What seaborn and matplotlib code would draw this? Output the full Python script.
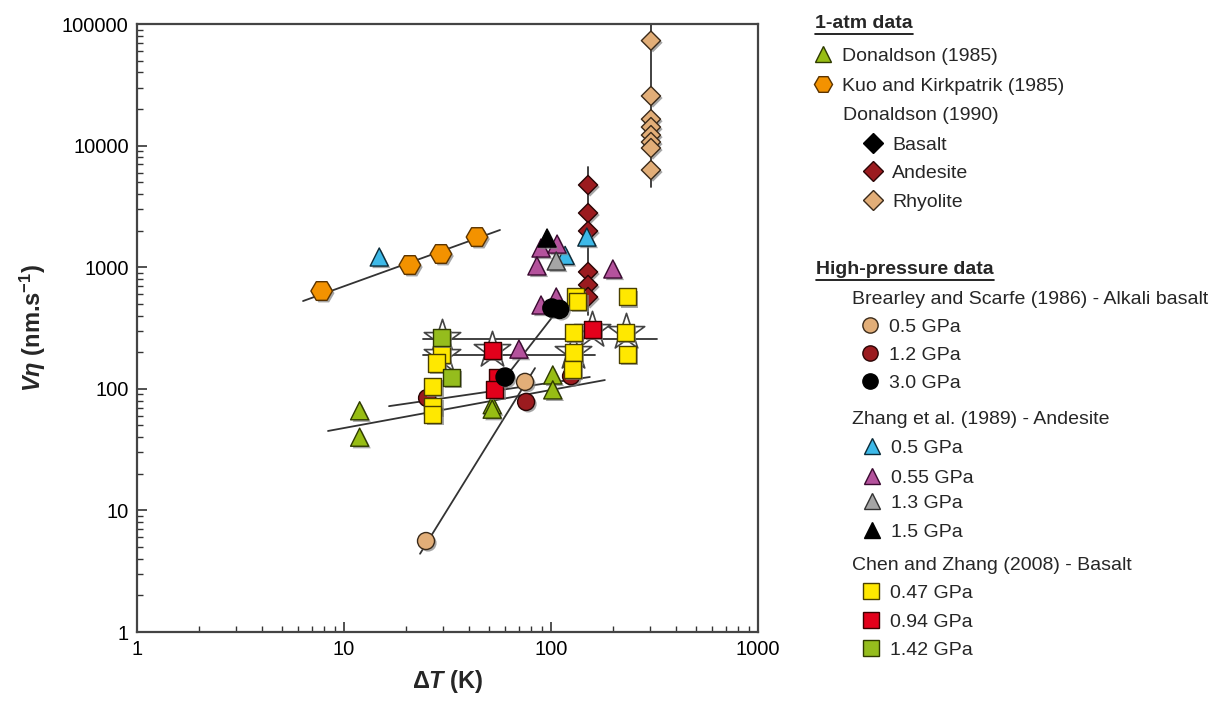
import matplotlib
matplotlib.use('Agg')
import matplotlib.pyplot as plt
import matplotlib.patheffects as pe
from matplotlib.lines import Line2D
from matplotlib.ticker import LogLocator, FuncFormatter, NullFormatter
import seaborn as sns

# ---- data (dT in K, V*eta in nm/s) ----
# 1-atm data
don85_dt = [11.9, 11.9, 52, 52, 102, 102]
don85_v = [66, 40, 74, 68, 130, 98]
kuo_dt = [7.8, 20.8, 29.4, 43.9]
kuo_v = [637, 1042, 1284, 1770]
and90_dt = [151, 151, 151, 151, 151, 151]
and90_v = [4745, 2790, 1985, 914, 715, 569]
rhy90_dt = [304, 304, 304, 304, 304, 304, 304, 304]
rhy90_v = [73000, 25600, 16500, 14200, 12200, 10700, 9550, 6300]

# high-pressure data
bs05_dt = [24.9, 74.9]
bs05_v = [5.6, 114]
bs12_dt = [25.2, 75.8, 125]
bs12_v = [84, 78, 127]
bs30_dt = [60, 101, 110]
bs30_v = [125, 462, 450]
zh050_dt = [14.8, 117, 149]
zh050_v = [1213, 1250, 1770]
zh055_dt = [89.5, 107, 85.5, 199, 89.5, 106, 70]
zh055_v = [1438, 1550, 1024, 967, 489, 569, 212]
zh13_dt = [106]
zh13_v = [1125]
zh15_dt = [95.7]
zh15_v = [1738]
cz047_dt = [29.7, 28.1, 26.9, 26.9, 26.9, 131, 135, 233, 129, 230, 233, 128, 127]
cz047_v = [190, 163, 105, 72, 62, 569, 527, 569, 293, 293, 190, 197, 143]
cz094_dt = [51.9, 158, 55, 53.6]
cz094_v = [208, 305, 125, 98]
cz142_dt = [29.7, 32.9]
cz142_v = [264, 123]
star_dt = [29.7, 29.7, 51.9, 158, 230, 128]
star_v = [262, 190, 208, 305, 293, 201]

# fitted trend lines (end points)
fit_lines = [
    ([6.34, 56.7], [527, 2023]),      # Kuo and Kirkpatrick
    ([8.37, 182], [45, 118]),         # Donaldson 1985
    ([16.5, 154], [72, 125]),         # 1.2 GPa
    ([23.3, 83.7], [4.4, 148]),       # 0.5 GPa
    ([54.8, 106], [101, 428]),        # 3.0 GPa
    ([24.1, 325], [257, 257]),        # horizontal
    ([24.1, 163], [190, 190]),        # horizontal
    ([151, 151], [404, 6670]),        # andesite
    ([304, 304], [4570, 100000]),     # rhyolite
]

x_ticks = [1, 10, 100, 1000]
y_ticks = [1, 10, 100, 1000, 10000, 100000]

# colours
c_green = '#97bd14'
c_orange = '#f39200'
c_darkred = '#9b1b1f'
c_tan = '#e2ae78'
c_blue = '#3db9e8'
c_magenta = '#b4529c'
c_grey = '#a5a5a5'
c_yellow = '#ffe800'
c_red = '#e3001b'
c_sqgreen = '#95bd1d'

sns.set_style('white')
plt.rcParams['font.family'] = ['Liberation Sans', 'DejaVu Sans']
plt.rcParams['mathtext.fontset'] = 'custom'
plt.rcParams['mathtext.rm'] = 'Liberation Sans:bold'
plt.rcParams['mathtext.it'] = 'Liberation Sans:italic:bold'
plt.rcParams['mathtext.bf'] = 'Liberation Sans:bold'

W, H = 1221, 702
fig = plt.figure(figsize=(W / 100, H / 100), dpi=100)
ax = fig.add_axes([137 / W, 1 - 632 / H, (758 - 137) / W, (632 - 24) / H])
ax.set_xscale('log')
ax.set_yscale('log')

shadow = [pe.SimplePatchShadow(offset=(1.5, -1.5), shadow_rgbFace='#808080', alpha=0.7), pe.Normal()]

for xs, ys in fit_lines:
    sns.lineplot(x=xs, y=ys, color='#333333', linewidth=1.3, sort=False,
                 estimator=None, ax=ax, zorder=2)


def pts(x, y, marker, size, face, edge, z=3, eff=True, lw=1.0):
    sns.scatterplot(x=x, y=y, marker=marker, s=size, color=face, edgecolor=edge,
                    linewidth=lw, ax=ax, zorder=z, legend=False)
    if eff:
        ax.collections[-1].set_path_effects(shadow)


pts(star_dt, star_v, '*', 760, 'white', '#444444', z=2.5, eff=False, lw=1.2)
pts(don85_dt, don85_v, '^', 170, c_green, '#2e3a00')
pts(kuo_dt, kuo_v, 'H', 240, c_orange, '#5a3300')
pts(rhy90_dt, rhy90_v, 'D', 95, c_tan, '#3a2a1a')
pts(and90_dt, and90_v, 'D', 95, c_darkred, '#2a0505')
pts(bs05_dt, bs05_v, 'o', 150, c_tan, '#3a2a1a')
pts(bs12_dt, bs12_v, 'o', 150, c_darkred, '#2a0505')
pts(zh050_dt, zh050_v, '^', 170, c_blue, '#0b2a38')
pts(zh055_dt, zh055_v, '^', 170, c_magenta, '#3a0a30')
pts(zh13_dt, zh13_v, '^', 170, c_grey, '#333333')
pts(zh15_dt, zh15_v, '^', 170, 'black', 'black')
pts(cz047_dt, cz047_v, 's', 150, c_yellow, '#4a4000')
pts(cz094_dt, cz094_v, 's', 150, c_red, '#3a0000')
pts(cz142_dt, cz142_v, 's', 150, c_sqgreen, '#2e3a00')
pts(bs30_dt, bs30_v, 'o', 170, 'black', 'black')

ax.set_xlim(x_ticks[0], x_ticks[-1])
ax.set_ylim(y_ticks[0], y_ticks[-1])
fmt = FuncFormatter(lambda v, p: '%d' % round(v))
ax.xaxis.set_major_locator(LogLocator(base=10, numticks=10))
ax.yaxis.set_major_locator(LogLocator(base=10, numticks=10))
ax.xaxis.set_minor_locator(LogLocator(base=10, subs=range(2, 10), numticks=20))
ax.yaxis.set_minor_locator(LogLocator(base=10, subs=range(2, 10), numticks=20))
ax.xaxis.set_major_formatter(fmt)
ax.yaxis.set_major_formatter(fmt)
ax.xaxis.set_minor_formatter(NullFormatter())
ax.yaxis.set_minor_formatter(NullFormatter())
ax.tick_params(which='both', direction='in', colors='#333333', labelcolor='black',
               labelsize=14.5, top=False, right=False, left=True, bottom=True)
ax.tick_params(which='major', length=7, width=1.2, pad=6)
ax.tick_params(which='minor', length=4, width=1.0)
for s in ax.spines.values():
    s.set_color('#444444')
    s.set_linewidth(1.6)

ax.set_xlabel(r'$\Delta\mathit{T}$ (K)', fontsize=17, fontweight='bold', labelpad=6)
ax.set_ylabel(r'$\mathit{V\eta}$ (nm.s$^{-1}$)', fontsize=17, fontweight='bold', labelpad=10)

# ---- legend on the right ----
FS = 14


def fx(px):
    return px / W


def fy(py):
    return 1 - py / H


headers = [('1-atm data', 815, 24), ('High-pressure data', 816, 270)]
subheads = [('Donaldson (1990)', 843, 116),
            ('Brearley and Scarfe (1986) - Alkali basalt', 852, 300),
            ('Zhang et al. (1989) - Andesite', 852, 420),
            ('Chen and Zhang (2008) - Basalt', 852, 565)]

entries = [
    ('Donaldson (1985)', '^', c_green, '#2e3a00', 823, 56),
    ('Kuo and Kirkpatrik (1985)', 'H', c_orange, '#5a3300', 823, 86),
    ('Basalt', 'D', 'black', 'black', 873, 145),
    ('Andesite', 'D', c_darkred, '#2a0505', 873, 173),
    ('Rhyolite', 'D', c_tan, '#3a2a1a', 873, 202),
    ('0.5 GPa', 'o', c_tan, '#3a2a1a', 870, 327),
    ('1.2 GPa', 'o', c_darkred, '#2a0505', 870, 355),
    ('3.0 GPa', 'o', 'black', 'black', 870, 383),
    ('0.5 GPa', '^', c_blue, '#0b2a38', 872, 448),
    ('0.55 GPa', '^', c_magenta, '#3a0a30', 872, 478),
    ('1.3 GPa', '^', c_grey, '#333333', 872, 503),
    ('1.5 GPa', '^', 'black', 'black', 872, 532),
    ('0.47 GPa', 's', c_yellow, '#4a4000', 871, 593),
    ('0.94 GPa', 's', c_red, '#3a0000', 871, 622),
    ('1.42 GPa', 's', c_sqgreen, '#2e3a00', 871, 650),
]
ms_map = {'H': 13, 'D': 10, '^': 12, 'o': 11, 's': 11}

em = FS * 100 / 72
for lab, mk, fc, ec, mx, my in entries:
    h = Line2D([0], [0], marker=mk, ls='', mfc=fc, mec=ec, mew=1.0, ms=ms_map[mk])
    fig.legend(handles=[h], labels=[lab], loc='center left',
               bbox_to_anchor=(fx(mx - 0.5 * em), fy(my)), frameon=False,
               borderpad=0, borderaxespad=0, handlelength=1.0,
               handletextpad=0.5, fontsize=FS)

for txt, px, py in subheads:
    fig.text(fx(px), fy(py), txt, fontsize=FS, ha='left', va='center')

fig.canvas.draw()
r = fig.canvas.get_renderer()
for txt, px, py in headers:
    t = fig.text(fx(px), fy(py), txt, fontsize=FS, fontweight='bold', ha='left', va='center')
    bb = t.get_window_extent(r)
    fig.add_artist(Line2D([bb.x0 / W, bb.x1 / W], [fy(py + 10)] * 2, color='black',
                          lw=1.2, transform=fig.transFigure))

fig.savefig('out.png', dpi=100)
